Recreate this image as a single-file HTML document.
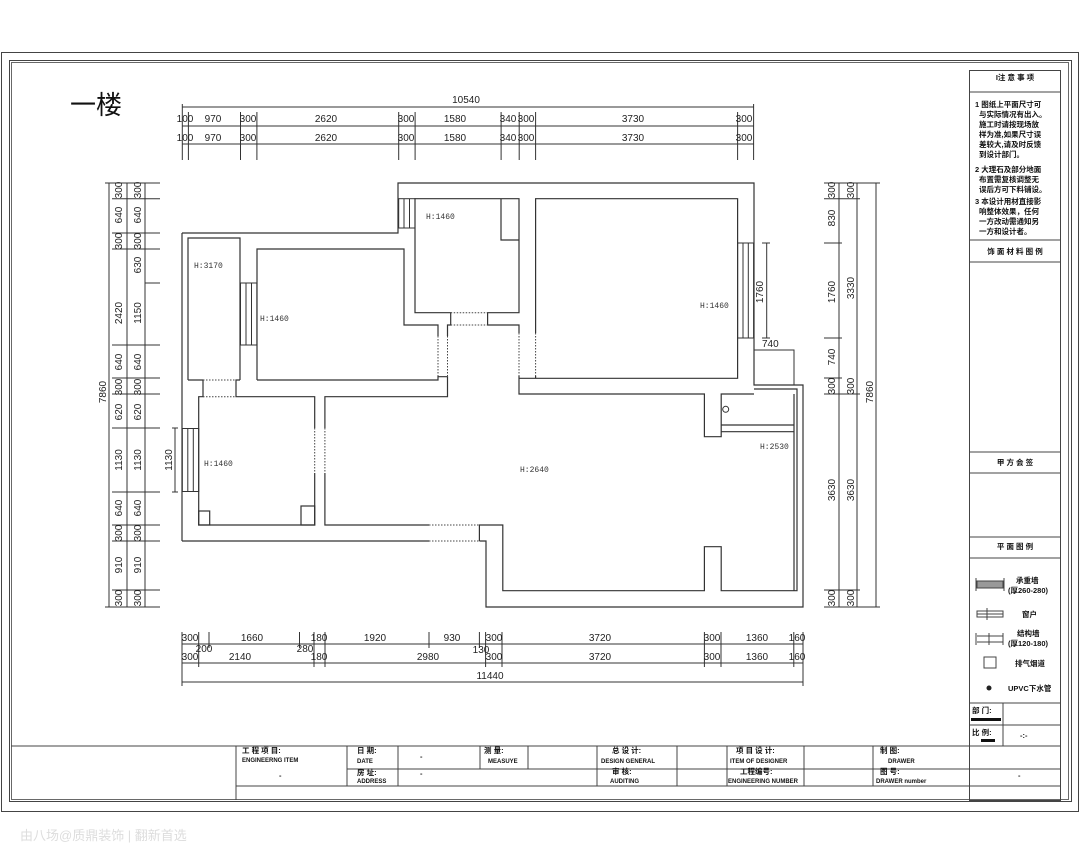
<!DOCTYPE html>
<html><head><meta charset="utf-8"><style>
html,body{margin:0;padding:0;background:#fff}
svg{display:block}
.d{font-family:"Liberation Sans",sans-serif;font-size:10px;fill:#222}
.h{font-family:"Liberation Mono",monospace;font-size:8px;fill:#333}
.c{font-family:"Liberation Sans","Noto Sans CJK SC",sans-serif;font-size:7.5px;font-weight:bold;fill:#111}
.e{font-family:"Liberation Sans",sans-serif;font-size:6px;font-weight:bold;fill:#111}
</style></head><body>
<svg width="1080" height="864" viewBox="0 0 1080 864" xmlns="http://www.w3.org/2000/svg">
<g fill="none" stroke="#444" stroke-width="1">
<!-- frame -->
<rect x="1.5" y="52.5" width="1077" height="759"/>
<rect x="9.5" y="60.5" width="1062" height="741"/>
<rect x="11.5" y="62.5" width="1057" height="737" stroke-width="0.8"/>
<!-- title block -->
<line x1="11" y1="746" x2="969" y2="746"/>
<line x1="236" y1="746" x2="236" y2="800"/>
<line x1="347" y1="769" x2="1060" y2="769"/>
<line x1="236" y1="786" x2="1060" y2="786"/>
<line x1="347" y1="746" x2="347" y2="786"/>
<line x1="398" y1="746" x2="398" y2="786"/>
<line x1="480" y1="746" x2="480" y2="769"/>
<line x1="528" y1="746" x2="528" y2="769"/>
<line x1="597" y1="746" x2="597" y2="786"/>
<line x1="677" y1="746" x2="677" y2="786"/>
<line x1="727" y1="746" x2="727" y2="786"/>
<line x1="804" y1="746" x2="804" y2="786"/>
<line x1="873" y1="746" x2="873" y2="786"/>
<!-- right panel -->
<rect x="969.5" y="70.5" width="91" height="730"/>
<line x1="969" y1="92" x2="1060" y2="92"/>
<line x1="969" y1="240" x2="1060" y2="240"/>
<line x1="969" y1="262" x2="1060" y2="262"/>
<line x1="969" y1="452" x2="1060" y2="452"/>
<line x1="969" y1="473" x2="1060" y2="473"/>
<line x1="969" y1="537" x2="1060" y2="537"/>
<line x1="969" y1="558" x2="1060" y2="558"/>
<line x1="969" y1="703" x2="1060" y2="703"/>
<line x1="969" y1="725" x2="1060" y2="725"/>
<line x1="1003" y1="703" x2="1003" y2="746"/>
<line x1="969" y1="746" x2="1060" y2="746"/>
<!-- legend icons -->
<rect x="977" y="581" width="26" height="7" fill="#999"/>
<line x1="976" y1="578" x2="976" y2="591"/><line x1="1004" y1="578" x2="1004" y2="591"/>
<rect x="977" y="611" width="26" height="6"/><line x1="977" y1="614" x2="1003" y2="614"/><line x1="987" y1="608" x2="987" y2="620"/>
<line x1="977" y1="636" x2="1003" y2="636"/><line x1="977" y1="642" x2="1003" y2="642"/><line x1="976" y1="633" x2="976" y2="645"/><line x1="989" y1="633" x2="989" y2="645"/><line x1="1003" y1="633" x2="1003" y2="645"/>
<rect x="984" y="657" width="12" height="11"/>
</g>
<circle cx="989" cy="688" r="2.5" fill="#222"/>
<rect x="971" y="718" width="30" height="3" fill="#111"/>
<rect x="981" y="739" width="14" height="3" fill="#111"/>

<!-- right panel text -->
<text class="c" x="1015" y="80" text-anchor="middle">I注 意 事 项</text>
<g class="c">
<text x="975" y="107">1 图纸上平面尺寸可</text>
<text x="979" y="117">与实际情况有出入。</text>
<text x="979" y="127">施工时请按现场放</text>
<text x="979" y="137">样为准,如果尺寸误</text>
<text x="979" y="147">差较大,请及时反馈</text>
<text x="979" y="157">到设计部门。</text>
<text x="975" y="172">2 大理石及部分地面</text>
<text x="979" y="182">布置需复核调整无</text>
<text x="979" y="192">误后方可下料铺设。</text>
<text x="975" y="204">3 本设计用材直接影</text>
<text x="979" y="214">响整体效果，任何</text>
<text x="979" y="224">一方改动需通知另</text>
<text x="979" y="234">一方和设计者。</text>
<text x="1015" y="254" text-anchor="middle">饰 面 材 料 图 例</text>
<text x="1015" y="465" text-anchor="middle">甲 方 会 签</text>
<text x="1015" y="549" text-anchor="middle">平 面 图 例</text>
<text x="1016" y="583">承重墙</text>
<text x="1008" y="593">(厚260-280)</text>
<text x="1022" y="617">窗户</text>
<text x="1017" y="636">结构墙</text>
<text x="1008" y="646">(厚120-180)</text>
<text x="1015" y="666">排气烟道</text>
<text x="1008" y="691">UPVC下水管</text>
<text x="972" y="713">部 门:</text>
<text x="972" y="735">比 例:</text>
<text x="1020" y="738">-:-</text>
<text x="1018" y="778">-</text>
</g>
<!-- title block text -->
<g class="c">
<text x="242" y="753">工 程 项 目:</text>
<text x="279" y="778">-</text>
<text x="357" y="753">日 期:</text>
<text x="420" y="759">-</text>
<text x="357" y="775">房 址:</text>
<text x="420" y="776">-</text>
<text x="484" y="753">测 量:</text>
<text x="612" y="753">总 设 计:</text>
<text x="612" y="774">审 核:</text>
<text x="736" y="753">项 目 设 计:</text>
<text x="740" y="774">工程编号:</text>
<text x="880" y="753">制 图:</text>
<text x="880" y="774">图 号:</text>
</g>
<g class="e">
<text x="242" y="762">ENGINEERNG ITEM</text>
<text x="357" y="763">DATE</text>
<text x="357" y="783">ADDRESS</text>
<text x="488" y="763">MEASUYE</text>
<text x="601" y="763">DESIGN GENERAL</text>
<text x="610" y="783">AUDITING</text>
<text x="730" y="763">ITEM OF DESIGNER</text>
<text x="728" y="783">ENGINEERING NUMBER</text>
<text x="888" y="763">DRAWER</text>
<text x="876" y="783">DRAWER number</text>
</g>

<text x="70" y="114" style="font-family:'Liberation Sans','Noto Sans CJK SC',sans-serif;font-size:26px;fill:#111">一楼</text>
<text x="20" y="840" style="font-family:'Liberation Sans','Noto Sans CJK SC',sans-serif;font-size:13px;fill:#ddd">由八场@质鼎装饰 | 翻新首选</text>

<!-- walls -->
<g fill="none" stroke="#333" stroke-width="1.2">
<path d="M182,233 H398 V183 H754 V385 H803 V607 H486 V541 H479.4 M429,541 H182 Z"/>
<path d="M182,233 V541"/>
<path d="M188,380 V238 H240 V380 M188,380 H203 V396.7 H198.7 V525 H314.7 V473 M314.7,428 V396.7 H236 V380 H240"/>
<path d="M257,380 V249 H404 V325 H438 V336 M438,376 V380 H257 M438,376.7 H447.5 V396.7 H324.9 V428 M324.9,473 V525 H429 M479.4,541 V525 H502.8 V590.7 H704.4 V546.7 H721.2 V590.7 H797 V389 H754"/>
<path d="M447.5,336 V325 H450.7 V312.7 H415 V198.7 H519 V312.7 H487.6 V325 H519 V333 M519,376 V394 H704.4 V436.7 H721.2 V394 H754"/>
<path d="M535.6,333 V198.7 H737.6 V378.3 H519 M535.6,376 V378.3"/>
<path d="M794,394 V590.7 M721.2,425 H794 M721.2,431.7 H794"/>
<path d="M501,198.7 V240 H519"/>
<rect x="198.7" y="511" width="11" height="14"/>
<rect x="301" y="506" width="13.7" height="19"/>
</g>
<circle cx="725.7" cy="409.3" r="3" fill="none" stroke="#333"/>
<!-- windows -->
<g fill="none" stroke="#333" stroke-width="1">
<rect x="398.7" y="198.7" width="16.3" height="29.3"/><line x1="404" y1="198.7" x2="404" y2="228"/><line x1="409.5" y1="198.7" x2="409.5" y2="228"/>
<rect x="240.5" y="283" width="16.4" height="62"/><line x1="246" y1="283" x2="246" y2="345"/><line x1="251.5" y1="283" x2="251.5" y2="345"/>
<rect x="737.6" y="243" width="16" height="95"/><line x1="743" y1="243" x2="743" y2="338"/><line x1="748.3" y1="243" x2="748.3" y2="338"/>
<rect x="182.3" y="428.5" width="16.4" height="63"/><line x1="187.8" y1="428.5" x2="187.8" y2="491.5"/><line x1="193.3" y1="428.5" x2="193.3" y2="491.5"/>
</g>
<!-- doors dotted -->
<g fill="none" stroke="#444" stroke-width="1" stroke-dasharray="1.5,1.5">
<path d="M203,380 H236 M203,396.7 H236"/>
<path d="M438,336 V376 M447.5,336 V376"/>
<path d="M450.7,312.7 H487.6 M450.7,325 H487.6"/>
<path d="M519,333 V376 M535.6,333 V376"/>
<path d="M314.7,428 V473 M324.9,428 V473"/>
<path d="M429,525 H479.4 M429,541 H479.4"/>
</g>
<g class="h">
<text x="194" y="268">H:3170</text>
<text x="260" y="321">H:1460</text>
<text x="426" y="219">H:1460</text>
<text x="700" y="308">H:1460</text>
<text x="204" y="466">H:1460</text>
<text x="520" y="472">H:2640</text>
<text x="760" y="449">H:2530</text>
</g>

<!-- dimensions -->
<g stroke="#333" stroke-width="1" fill="none">
<line x1="182" y1="107" x2="754" y2="107"/>
<line x1="182" y1="126" x2="754" y2="126"/>
<line x1="182" y1="144" x2="754" y2="144"/>
<path d="M182.3,104 V160 M188.4,112 V160 M240.5,112 V160 M256.9,112 V160 M398.7,112 V160 M415.1,112 V160 M501.1,112 V160 M519.2,112 V160 M535.6,112 V160 M737.6,112 V160 M753.6,104 V160"/>
<line x1="109" y1="183" x2="109" y2="607"/>
<line x1="127" y1="183" x2="127" y2="607"/>
<line x1="145" y1="183" x2="145" y2="607"/>
<path d="M105,183 H160 M112,198.7 H160 M112,233 H160 M112,249 H160 M145,283 H160 M112,345 H160 M112,378 H160 M112,394 H160 M112,428 H160 M112,492 H160 M112,525 H160 M112,541 H160 M112,590 H160 M105,607 H160"/>
<line x1="175" y1="428" x2="175" y2="492"/><path d="M172,428 H178 M172,492 H178"/>
<line x1="839" y1="183" x2="839" y2="607"/>
<line x1="857" y1="183" x2="857" y2="607"/>
<line x1="876" y1="183" x2="876" y2="607"/>
<path d="M824,183 H880 M824,198.7 H860 M824,243 H842 M824,338 H842 M824,378 H842 M824,394 H860 M824,590 H860 M824,607 H880"/>
<line x1="766.7" y1="243" x2="766.7" y2="338"/><path d="M762,243 H770 M762,338 H770"/>
<path d="M754,350 H794 V385"/>
<line x1="182" y1="644" x2="803" y2="644"/>
<line x1="182" y1="663" x2="803" y2="663"/>
<line x1="182" y1="682" x2="803" y2="682"/>
<path d="M182,632 V686 M198.7,632 V667 M209,632 V648 M299.5,632 V648 M314,632 V667 M325,632 V667 M429,632 V648 M479.4,632 V648 M485.6,632 V667 M502,632 V667 M704.4,632 V667 M721,632 V667 M793.8,632 V667 M803,632 V686"/>
</g>
<g class="d">
<text x="466" y="103" text-anchor="middle">10540</text>
<g text-anchor="middle">
<text x="185" y="122">100</text><text x="213" y="122">970</text><text x="248" y="122">300</text><text x="326" y="122">2620</text><text x="406" y="122">300</text><text x="455" y="122">1580</text><text x="508" y="122">340</text><text x="526" y="122">300</text><text x="633" y="122">3730</text><text x="744" y="122">300</text>
<text x="185" y="141">100</text><text x="213" y="141">970</text><text x="248" y="141">300</text><text x="326" y="141">2620</text><text x="406" y="141">300</text><text x="455" y="141">1580</text><text x="508" y="141">340</text><text x="526" y="141">300</text><text x="633" y="141">3730</text><text x="744" y="141">300</text>
<text x="190" y="641">300</text><text x="252" y="641">1660</text><text x="319" y="641">180</text><text x="375" y="641">1920</text><text x="452" y="641">930</text><text x="494" y="641">300</text><text x="600" y="641">3720</text><text x="712" y="641">300</text><text x="757" y="641">1360</text><text x="797" y="641">160</text>
<text x="204" y="652">200</text><text x="305" y="652">280</text><text x="481" y="653">130</text>
<text x="190" y="660">300</text><text x="240" y="660">2140</text><text x="319" y="660">180</text><text x="428" y="660">2980</text><text x="494" y="660">300</text><text x="600" y="660">3720</text><text x="712" y="660">300</text><text x="757" y="660">1360</text><text x="797" y="660">160</text>
<text x="490" y="679">11440</text>
</g>
<g text-anchor="middle">
<text transform="translate(106,392) rotate(-90)">7860</text>
<text transform="translate(122,190) rotate(-90)">300</text>
<text transform="translate(122,215) rotate(-90)">640</text>
<text transform="translate(122,241) rotate(-90)">300</text>
<text transform="translate(122,313) rotate(-90)">2420</text>
<text transform="translate(122,362) rotate(-90)">640</text>
<text transform="translate(122,387) rotate(-90)">300</text>
<text transform="translate(122,412) rotate(-90)">620</text>
<text transform="translate(122,460) rotate(-90)">1130</text>
<text transform="translate(122,508) rotate(-90)">640</text>
<text transform="translate(122,533) rotate(-90)">300</text>
<text transform="translate(122,565) rotate(-90)">910</text>
<text transform="translate(122,598) rotate(-90)">300</text>
<text transform="translate(141,190) rotate(-90)">300</text>
<text transform="translate(141,215) rotate(-90)">640</text>
<text transform="translate(141,241) rotate(-90)">300</text>
<text transform="translate(141,265) rotate(-90)">630</text>
<text transform="translate(141,313) rotate(-90)">1150</text>
<text transform="translate(141,362) rotate(-90)">640</text>
<text transform="translate(141,387) rotate(-90)">300</text>
<text transform="translate(141,412) rotate(-90)">620</text>
<text transform="translate(141,460) rotate(-90)">1130</text>
<text transform="translate(141,508) rotate(-90)">640</text>
<text transform="translate(141,533) rotate(-90)">300</text>
<text transform="translate(141,565) rotate(-90)">910</text>
<text transform="translate(141,598) rotate(-90)">300</text>
<text transform="translate(172,460) rotate(-90)">1130</text>
<text transform="translate(835,190) rotate(-90)">300</text>
<text transform="translate(835,218) rotate(-90)">830</text>
<text transform="translate(835,292) rotate(-90)">1760</text>
<text transform="translate(835,357) rotate(-90)">740</text>
<text transform="translate(835,386) rotate(-90)">300</text>
<text transform="translate(835,490) rotate(-90)">3630</text>
<text transform="translate(835,598) rotate(-90)">300</text>
<text transform="translate(854,190) rotate(-90)">300</text>
<text transform="translate(854,288) rotate(-90)">3330</text>
<text transform="translate(854,386) rotate(-90)">300</text>
<text transform="translate(854,490) rotate(-90)">3630</text>
<text transform="translate(854,598) rotate(-90)">300</text>
<text transform="translate(873,392) rotate(-90)">7860</text>
<text transform="translate(763,292) rotate(-90)">1760</text>
</g>
<text x="762" y="347">740</text>
</g>
</svg>
</body></html>
